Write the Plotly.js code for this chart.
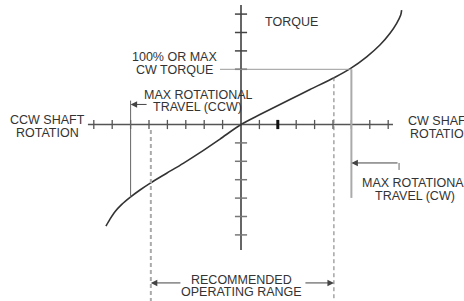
<!DOCTYPE html>
<html>
<head>
<meta charset="utf-8">
<script src="https://cdn.plot.ly/plotly-3.0.1.min.js"></script>
<style>html,body{margin:0;padding:0;background:#fff;}#chart{width:464px;height:301px;}</style>
</head>
<body>
<div id="chart"></div>
<script>
// Torque vs shaft rotation curve (axis units = tick divisions)
const curveX = [-7.34,-7.12,-6.85,-6.48,-6.03,-5.49,-4.95,-4.04,-3.14,-2.23,-1.14,0,1.03,2.66,3.75,5.11,5.96,6.83,7.55,8.10,8.46,8.68,8.73];
const curveY = [-5.52,-5.14,-4.74,-4.34,-3.96,-3.56,-3.20,-2.65,-2.11,-1.53,-0.79,0,0.54,1.36,1.90,2.57,3.05,3.68,4.32,4.96,5.50,5.95,6.22];

// Tick positions along the rotation (x) and torque (y) axes
const xTicks = [-8,-7,-6,-5,-4,-3,-2,-1,1,2,3,4,5,6,7,8];
const yTicks = [6,5,4,3,-1,-2,-3,-4,-5,-6];
const boldXTick = 2;

// Key positions
const maxCcwTravel = -6;
const maxCwTravel = 6;
const maxCwTorque = 3;
const operatingRange = [-4.9, 5.05];

// Labels
const labels = [
  {text:'TORQUE', x:2.72, y:5.57, xa:'center'},
  {text:'100% OR MAX', x:-3.59, y:3.67, xa:'center'},
  {text:'CW TORQUE', x:-3.64, y:2.96, xa:'center'},
  {text:'MAX ROTATIONAL', x:-2.31, y:1.60, xa:'center'},
  {text:'TRAVEL (CCW)', x:-2.34, y:0.95, xa:'center'},
  {text:'CCW SHAFT', x:-10.52, y:0.245, xa:'center'},
  {text:'ROTATION', x:-10.52, y:-0.46, xa:'center'},
  {text:'CW SHAFT', x:8.97, y:0.19, xa:'left'},
  {text:'ROTATION', x:9.08, y:-0.52, xa:'left'},
  {text:'MAX ROTATIONAL', x:6.47, y:-3.18, xa:'left'},
  {text:'TRAVEL (CW)', x:9.46, y:-3.89, xa:'center'},
  {text:'RECOMMENDED', x:0.05, y:-8.45, xa:'center'},
  {text:'OPERATING RANGE', x:0, y:-9.10, xa:'center'}
];

const xAxisExtent = [-8.32, 8.26];
const yAxisExtent = [-6.82, 6.49];

const shapes = [];
// main axes
shapes.push({type:'line', x0:xAxisExtent[0], x1:xAxisExtent[1], y0:0, y1:0, line:{color:'#555', width:1.5}});
shapes.push({type:'line', x0:0, x1:0, y0:yAxisExtent[0], y1:yAxisExtent[1], line:{color:'#333', width:1.5}});
xTicks.forEach(v => shapes.push({type:'line', x0:v, x1:v, y0:-0.25, y1:0.25,
  line:{color: v===boldXTick ? '#111' : '#555', width: v===boldXTick ? 3 : 1.3}}));
yTicks.forEach(v => shapes.push({type:'line', x0:-0.33, x1:0.33, y0:v, y1:v,
  line:{color: v>0 ? '#444' : '#777', width:1.5}}));
// max torque horizontal line
const torqueLineStart = -1.14;
shapes.push({type:'line', x0:torqueLineStart, x1:maxCwTravel, y0:maxCwTorque, y1:maxCwTorque, line:{color:'#999', width:1}});
// max CW travel vertical line
shapes.push({type:'line', x0:maxCwTravel, x1:maxCwTravel, y0:maxCwTorque, y1:-3.99, line:{color:'#aaa', width:2}});
// max CCW travel vertical line
shapes.push({type:'line', x0:maxCcwTravel, x1:maxCcwTravel, y0:1.3, y1:-3.96, line:{color:'#666', width:1}});
// recommended operating range dashed lines
shapes.push({type:'line', x0:operatingRange[0], x1:operatingRange[0], y0:-0.3, y1:-9.6, line:{color:'#aaa', width:2, dash:'4px,3px'}});
shapes.push({type:'line', x0:operatingRange[1], x1:operatingRange[1], y0:2.57, y1:-9.6, line:{color:'#777', width:1, dash:'4px,3px'}});
// elbow of the CW travel callout
shapes.push({type:'line', x0:8.59, x1:8.59, y0:-2.09, y1:-2.47, line:{color:'#666', width:1}});

const annotations = labels.map(l => ({
  text:l.text, x:l.x, y:l.y, xref:'x', yref:'y', xanchor:l.xa, yanchor:'middle',
  showarrow:false, font:{family:'Liberation Sans, Arial, sans-serif', size:12.5, color:'#333'}
}));
function arrow(tipX, tipY, tailX, tailY){
  return {x:tipX, y:tipY, ax:tailX, ay:tailY, xref:'x', yref:'y', axref:'x', ayref:'y',
    text:'', showarrow:true, arrowhead:2, arrowsize:1.3, arrowwidth:1, arrowcolor:'#444', standoff:0, startstandoff:0};
}
annotations.push(arrow(maxCcwTravel, 1.09, -5.05, 1.09));
annotations.push(arrow(maxCwTravel, -2.09, 8.59, -2.09));
annotations.push(arrow(operatingRange[0], -8.61, -3.21, -8.61));
annotations.push(arrow(operatingRange[1], -8.61, 3.42, -8.61));

const traces = [{
  x: curveX, y: curveY, type:'scatter', mode:'lines',
  line:{color:'#333', width:1.6, shape:'spline', smoothing:0.8}, hoverinfo:'skip'
}];

const layout = {
  width:464, height:301, margin:{l:0, r:0, t:0, b:0},
  paper_bgcolor:'#fff', plot_bgcolor:'#fff', showlegend:false,
  xaxis:{range:[-13.098, 12.12], visible:false, fixedrange:true},
  yaxis:{range:[-9.592, 6.766], visible:false, fixedrange:true},
  shapes:shapes, annotations:annotations
};
Plotly.newPlot('chart', traces, layout, {staticPlot:true, displayModeBar:false});
</script>
</body>
</html>
